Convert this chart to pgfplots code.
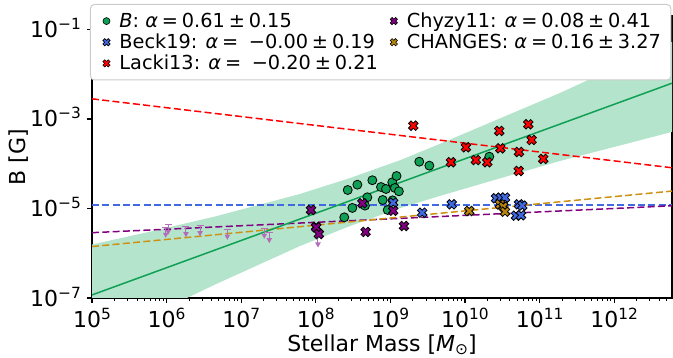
\documentclass[border=0pt]{standalone}
\usepackage{fontspec}
\setmainfont{DejaVu Sans}
\usepackage{pgfplots}
\pgfplotsset{compat=1.18}

\definecolor{cgreen}{RGB}{16,160,85}
\definecolor{cband}{RGB}{180,228,204}
\definecolor{cblue}{RGB}{65,105,225}
\definecolor{cred}{RGB}{255,0,0}
\definecolor{cpurple}{RGB}{128,0,128}
\definecolor{corange}{RGB}{184,134,11}
\definecolor{corangeline}{RGB}{205,145,20}
\definecolor{cuplim}{RGB}{180,110,185}
\definecolor{clegframe}{RGB}{204,204,204}

\newcommand{\tp}[1]{10\raisebox{8pt}{\fontsize{15.4}{15.4}\selectfont #1}}
\newcommand{\gp}{\hspace{0.2em}}

\pgfdeclareplotmark{bigX}{%
  \pgfpathmoveto{\pgfqpoint{-0.4596\pgfplotmarksize}{0.9546\pgfplotmarksize}}%
  \pgfpathlineto{\pgfqpoint{-0.9546\pgfplotmarksize}{0.4596\pgfplotmarksize}}%
  \pgfpathlineto{\pgfqpoint{-0.495\pgfplotmarksize}{0pt}}%
  \pgfpathlineto{\pgfqpoint{-0.9546\pgfplotmarksize}{-0.4596\pgfplotmarksize}}%
  \pgfpathlineto{\pgfqpoint{-0.4596\pgfplotmarksize}{-0.9546\pgfplotmarksize}}%
  \pgfpathlineto{\pgfqpoint{0pt}{-0.495\pgfplotmarksize}}%
  \pgfpathlineto{\pgfqpoint{0.4596\pgfplotmarksize}{-0.9546\pgfplotmarksize}}%
  \pgfpathlineto{\pgfqpoint{0.9546\pgfplotmarksize}{-0.4596\pgfplotmarksize}}%
  \pgfpathlineto{\pgfqpoint{0.495\pgfplotmarksize}{0pt}}%
  \pgfpathlineto{\pgfqpoint{0.9546\pgfplotmarksize}{0.4596\pgfplotmarksize}}%
  \pgfpathlineto{\pgfqpoint{0.4596\pgfplotmarksize}{0.9546\pgfplotmarksize}}%
  \pgfpathlineto{\pgfqpoint{0pt}{0.495\pgfplotmarksize}}%
  \pgfpathclose
  \pgfusepathqfillstroke
}
\pgfdeclareplotmark{uplim}{%
  \pgfpathmoveto{\pgfqpoint{-3.5pt}{0pt}}\pgfpathlineto{\pgfqpoint{3.5pt}{0pt}}%
  \pgfpathmoveto{\pgfqpoint{0pt}{0pt}}\pgfpathlineto{\pgfqpoint{0pt}{-6pt}}%
  \pgfusepathqstroke
  \pgfpathmoveto{\pgfqpoint{-2.8pt}{-5.5pt}}\pgfpathlineto{\pgfqpoint{2.8pt}{-5.5pt}}%
  \pgfpathlineto{\pgfqpoint{0pt}{-10.5pt}}\pgfpathclose
  \pgfusepathqfill
}

\begin{document}
\begin{tikzpicture}
\begin{axis}[
  at={(0,0)}, anchor=south west,
  scale only axis, width=580pt, height=282pt,
  xmode=log, ymode=log,
  xmin=1e5, xmax=5.96e12, ymin=1e-7, ymax=0.2,
  axis line style={black, line width=1.1pt},
  tick align=outside, tick pos=left,
  major tick length=4.9pt, minor tick length=2.8pt,
  major tick style={black, line width=1.1pt},
  minor tick style={black, line width=0.8pt},
  xtick={1e5,1e6,1e7,1e8,1e9,1e10,1e11,1e12},
  xticklabels={\tp{5},\tp{6},\tp{7},\tp{8},\tp{9},\tp{10},\tp{11},\tp{12}},
  minor xtick={2e5,3e5,4e5,5e5,6e5,7e5,8e5,9e5,2e6,3e6,4e6,5e6,6e6,7e6,8e6,9e6,2e7,3e7,4e7,5e7,6e7,7e7,8e7,9e7,2e8,3e8,4e8,5e8,6e8,7e8,8e8,9e8,2e9,3e9,4e9,5e9,6e9,7e9,8e9,9e9,2e10,3e10,4e10,5e10,6e10,7e10,8e10,9e10,2e11,3e11,4e11,5e11,6e11,7e11,8e11,9e11,2e12,3e12,4e12,5e12},
  ytick={1e-7,1e-5,1e-3,1e-1},
  yticklabels={\tp{−7},\tp{−5},\tp{−3},\tp{−1}},
  yminorticks=false,
  /pgf/number format/assume math mode=true,
  tick label style={font=\fontsize{22}{26}\selectfont, inner sep=0pt},
  xticklabel style={anchor=base, yshift=-25pt},
  yticklabel style={anchor=base east, xshift=-6pt, yshift=-8pt},
  xlabel={Stellar Mass [\textit{M}\raisebox{-3.5pt}{\fontsize{15.4}{15.4}\selectfont ⊙}]},
  ylabel={B [G]},
  label style={font=\fontsize{22}{26}\selectfont, inner sep=0pt},
  xlabel style={at={(axis description cs:0.5,0)}, anchor=base, yshift=-53pt},
  ylabel style={at={(axis description cs:-0.1155,0.5)}, anchor=base, rotate=0},
  legend columns=2,
  legend cell align=left,
  legend image code/.code={\path[draw=none,fill=none] (0pt,0pt) -- (16pt,0pt); \draw[#1] plot coordinates {(8pt,0pt)};},
  legend style={at={(-0.0035,1.0426)}, anchor=north west,
    draw=clegframe, line width=1pt, rounded corners=4pt, fill=white,
    font=\fontsize{19.3}{22}\selectfont,
    inner xsep=8pt, inner ysep=6.5pt, row sep=1pt,
    /tikz/every odd column/.append style={column sep=3pt},
    /tikz/every even column/.append style={column sep=6pt}},
]
% confidence band
\addplot[fill=cband, draw=none, forget plot] coordinates {
 (1e5,1.57e-6) (5.98e5,3.03e-6) (4.46e6,6.62e-6) (6.14e7,2.11e-5) (2.87e8,4.78e-5)
 (1.35e9,1.20e-4) (4.62e9,2.78e-4) (2.94e10,1.03e-3) (1.875e11,3.81e-3) (1.197e12,1.57e-2) (5.96e12,5.28e-2)
 (5.96e12,5.15e-4) (1.197e12,2.56e-4) (1.875e11,1.15e-4) (2.94e10,4.71e-5) (4.62e9,1.91e-5)
 (1.35e9,1.02e-5) (2.87e8,4.05e-6) (6.14e7,1.45e-6) (4.46e6,2.00e-7) (5.98e5,4.02e-8) (1e5,9.14e-9)
} -- cycle;
% fit lines
\addplot[cred, line width=1.5pt, dash pattern=on 7pt off 3.3pt, forget plot] coordinates {(1e5,2.82e-3) (5.96e12,8.13e-5)};
\addplot[cblue, line width=1.5pt, dash pattern=on 7pt off 3.3pt, forget plot] coordinates {(1e5,1.21e-5) (5.96e12,1.21e-5)};
\addplot[cpurple, line width=1.5pt, dash pattern=on 7pt off 3.3pt, forget plot] coordinates {(1e5,2.88e-6) (5.96e12,1.15e-5)};
\addplot[corangeline, line width=1.5pt, dash pattern=on 7pt off 3.3pt, forget plot] coordinates {(1e5,1.41e-6) (5.96e12,2.45e-5)};
\addplot[cgreen, line width=1.5pt, forget plot] coordinates {(1e5,1.17e-7) (5.96e12,6.3e-3)};
% upper limits
\addplot[only marks, mark=uplim, cuplim, line width=1pt, forget plot] coordinates {
 (9.73e5,3.80e-6) (1.05e6,4.44e-6) (1.82e6,3.92e-6) (2.81e6,4.12e-6) (6.52e6,3.43e-6)
 (2.04e7,3.61e-6) (2.38e7,2.88e-6) (1.07e8,2.31e-6)
};
% B (green circles)
\addplot[only marks, mark=*, mark size=4.5pt, mark options={fill=cgreen, draw=black, line width=0.8pt}, forget plot] coordinates {
 (2.68e8,2.59e-5) (3.61e8,3.40e-5) (5.73e8,4.28e-5) (7.48e8,3.02e-5) (8.73e8,2.73e-5)
 (1.06e9,3.85e-5) (1.21e9,5.32e-5) (1.15e9,2.87e-5) (1.30e9,2.42e-5) (4.91e8,1.78e-5)
 (7.89e8,1.55e-5) (1.07e9,1.52e-5) (3.09e8,1.03e-5) (4.57e8,1.16e-5) (9.20e8,9.25e-6)
 (2.41e8,6.35e-6) (2.44e9,1.11e-4) (3.33e9,9.06e-5) (2.12e10,1.44e-4)
};
% Beck19
\addplot[only marks, mark=bigX, mark size=5pt, mark options={fill=cblue, draw=black, line width=0.8pt}, forget plot] coordinates {
 (1.09e9,1.35e-5) (2.67e9,8.05e-6) (6.64e9,1.24e-5) (2.61e10,1.69e-5) (3.01e10,1.75e-5)
 (3.44e10,1.75e-5) (5.30e10,1.24e-5) (5.86e10,1.16e-5) (4.83e10,6.90e-6) (5.64e10,7.05e-6)
};
% Lacki13
\addplot[only marks, mark=bigX, mark size=5pt, mark options={fill=cred, draw=black, line width=0.8pt}, forget plot] coordinates {
 (2.03e9,7.08e-4) (1.03e10,2.33e-4) (6.49e9,1.08e-4) (1.40e10,1.21e-4) (1.99e10,1.08e-4)
 (2.88e10,5.40e-4) (2.98e10,2.21e-4) (5.30e10,1.83e-4) (7.06e10,7.62e-4) (7.83e10,3.40e-4)
 (5.25e10,6.89e-5) (1.12e11,1.28e-4)
};
% CHANGES
\addplot[only marks, mark=bigX, mark size=5pt, mark options={fill=corange, draw=black, line width=0.8pt}, forget plot] coordinates {
 (1.14e10,8.79e-6) (2.94e10,1.24e-5) (3.27e10,1.10e-5) (3.44e10,8.49e-6) (1.01e8,3.89e-6)
};
% Chyzy11
\addplot[only marks, mark=bigX, mark size=5pt, mark options={fill=cpurple, draw=black, line width=0.8pt}, forget plot] coordinates {
 (8.63e7,9.25e-6) (4.21e8,1.31e-5) (1.09e9,8.91e-6) (1.52e9,4.06e-6) (4.66e8,2.99e-6)
 (1.01e8,3.80e-6) (1.10e8,2.69e-6)
};
% legend
\addlegendimage{only marks, mark=*, mark size=3.5pt, mark options={fill=cgreen, draw=black, line width=0.6pt}}
\addlegendentry{\textit{B}: \textit{α}\gp=\gp0.61\gp±\gp0.15}
\addlegendimage{only marks, mark=bigX, mark size=3.8pt, mark options={fill=cpurple, draw=black, line width=0.6pt}}
\addlegendentry{Chyzy11: \textit{α}\gp=\gp0.08\gp±\gp0.41}
\addlegendimage{only marks, mark=bigX, mark size=3.8pt, mark options={fill=cblue, draw=black, line width=0.6pt}}
\addlegendentry{Beck19: \textit{α}\gp=\hspace{0.55em}−0.00\gp±\gp0.19}
\addlegendimage{only marks, mark=bigX, mark size=3.8pt, mark options={fill=corange, draw=black, line width=0.6pt}}
\addlegendentry{CHANGES: \textit{α}\gp=\gp0.16\gp±\gp3.27}
\addlegendimage{only marks, mark=bigX, mark size=3.8pt, mark options={fill=cred, draw=black, line width=0.6pt}}
\addlegendentry{Lacki13: \textit{α}\gp=\hspace{0.55em}−0.20\gp±\gp0.21}
\end{axis}
\pgfresetboundingbox
\path[use as bounding box] (-92pt,-60pt) rectangle (581pt,298pt);
\end{tikzpicture}
\end{document}
